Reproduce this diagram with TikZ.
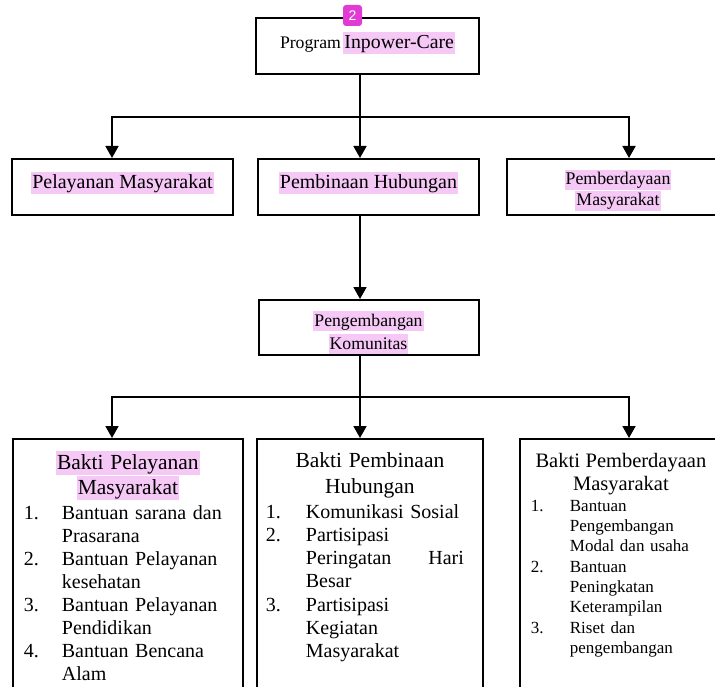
\documentclass[tikz,border=0pt]{standalone}
\usepackage{fontspec}
\setmainfont{Liberation Serif}
\newfontfamily\badgefont{Liberation Sans}
\usepackage{xcolor}
\usetikzlibrary{positioning,arrows.meta,calc}
\definecolor{hlpink}{RGB}{246,200,246}
\definecolor{badgemag}{RGB}{224,60,212}
\newlength{\numw}
\newcommand{\hl}[1]{{\setlength{\fboxsep}{0pt}\colorbox{hlpink}{\kern1pt\rule[-.27em]{0pt}{1.1em}#1\kern1pt}}}
\newcommand{\itm}[2]{\makebox[\numw][l]{#1}#2}
\newcommand{\cnt}[1]{\hspace*{\numw}#1}
\tikzset{chart/.style={>={Triangle[length=12pt,width=13pt]},line width=1.8pt,x=1pt,y=-1pt,node distance=23pt},
    unitbox/.style={rectangle,draw,line width=2pt,align=center,inner sep=0pt,minimum height=56pt},
    boxframe/.style={rectangle,draw,line width=2pt,anchor=north west,inner sep=0pt,minimum height=300pt},
    listtext/.style={anchor=north west,inner sep=0pt,align=left},
    badgebox/.style={fill=badgemag,rounded corners=3pt,minimum width=19pt,minimum height=21pt,inner sep=0pt,text=white}}

\begin{document}
\begin{tikzpicture}[chart]
\clip (0,0) rectangle (715,687);
% level 1
\node[unitbox, minimum width=223pt, text height=11pt, text depth=6pt] (prog) at (367.5,46)
    {{\fontsize{17.7}{21}\selectfont Program} {\fontsize{19.8}{23}\selectfont\hl{Inpower-Care}}};
% level 2
\node[unitbox, minimum width=221pt, text height=10pt, text depth=7pt, font=\fontsize{20}{23}\selectfont] (pel) at (122.5,187)
    {\hl{Pelayanan Masyarakat}};
\node[unitbox, minimum width=221pt, text height=10pt, text depth=7pt, font=\fontsize{20}{23}\selectfont, right=of pel] (bin)
    {\hl{Pembinaan Hubungan}};
\node[unitbox, minimum width=222pt, text height=40pt, text depth=2pt, font=\fontsize{17.8}{21}\selectfont, right=26pt of bin] (pmb)
    {\hl{Pemberdayaan}\\\hl{Masyarakat}};
% level 3
\node[unitbox, minimum width=220pt, minimum height=55pt, text height=44pt, text depth=1pt, font=\fontsize{17.7}{23}\selectfont, below=83pt of bin] (kom)
    {\hl{Pengembangan}\\\hl{Komunitas}};
% level 4
\node[boxframe, minimum width=230pt] (bpel) at (12,438) {};
\node[boxframe, minimum width=226pt] (bbin) at (256,438) {};
\node[boxframe, minimum width=210pt] (bpmb) at (519,438) {};

\node[listtext, text width=208pt, font=\fontsize{20}{23}\selectfont] (bpelTxt) at (23,450.5) {%
    {\fontsize{21.5}{25}\selectfont\makebox[208pt]{\hl{Bakti Pelayanan}}\\\makebox[208pt]{\hl{Masyarakat}}\par}\vspace{2pt}%
    \setlength{\numw}{38pt}%
    \itm{1.}{Bantuan sarana dan}\\\cnt{Prasarana}\\
    \itm{2.}{Bantuan Pelayanan}\\\cnt{kesehatan}\\
    \itm{3.}{Bantuan Pelayanan}\\\cnt{Pendidikan}\\
    \itm{4.}{Bantuan Bencana}\\\cnt{Alam}};
\node[listtext, text width=208pt, font=\fontsize{20}{23.3}\selectfont] (bbinTxt) at (265,449) {%
    {\fontsize{21.5}{26}\selectfont\makebox[208pt]{\rule{0pt}{.83em}Bakti Pembinaan}\\\makebox[208pt]{Hubungan}\par}\vspace{1pt}%
    \setlength{\numw}{40pt}%
    \itm{1.}{Komunikasi Sosial}\\
    \itm{2.}{Partisipasi}\\\cnt{\makebox[158pt][l]{Peringatan\hfill Hari}}\\\cnt{Besar}\\
    \itm{3.}{Partisipasi}\\\cnt{Kegiatan}\\\cnt{Masyarakat}};
\node[listtext, text width=180pt, font=\fontsize{17}{20.3}\selectfont] (bpmbTxt) at (530,450) {%
    {\fontsize{20.5}{23}\selectfont\makebox[180pt]{\rule{0pt}{.83em}Bakti Pemberdayaan}\\\makebox[180pt]{Masyarakat}\par}%
    \setlength{\numw}{39pt}%
    \itm{1.}{Bantuan}\\\cnt{Pengembangan}\\\cnt{Modal dan usaha}\\
    \itm{2.}{Bantuan}\\\cnt{Peningkatan}\\\cnt{Keterampilan}\\
    \itm{3.}{Riset dan}\\\cnt{pengembangan}};

% connectors
\coordinate (busA) at (360,117);
\coordinate (busAL) at (112,117);
\coordinate (busAR) at (629,117);
\draw (busA |- prog.south) -- (busA);
\draw[->] (busA) -| (busAL |- pel.north);
\draw[->] (busA) -| (busAR |- pmb.north);
\draw[->] (busA) -- (busA |- bin.north);
\draw[->] (busA |- bin.south) -- (busA |- kom.north);

\coordinate (busB) at (360,397);
\coordinate (busBL) at (112,397);
\coordinate (busBR) at (629,397);
\draw (busB |- kom.south) -- (busB);
\draw[->] (busB) -| (busBL |- bpel.north);
\draw[->] (busB) -| (busBR |- bpmb.north);
\draw[->] (busB) -- (busB |- bbin.north);

\node[badgebox, font=\badgefont\fontsize{14}{16}\selectfont] (badge) at (352.5,15.5) {2};
\end{tikzpicture}
\end{document}
